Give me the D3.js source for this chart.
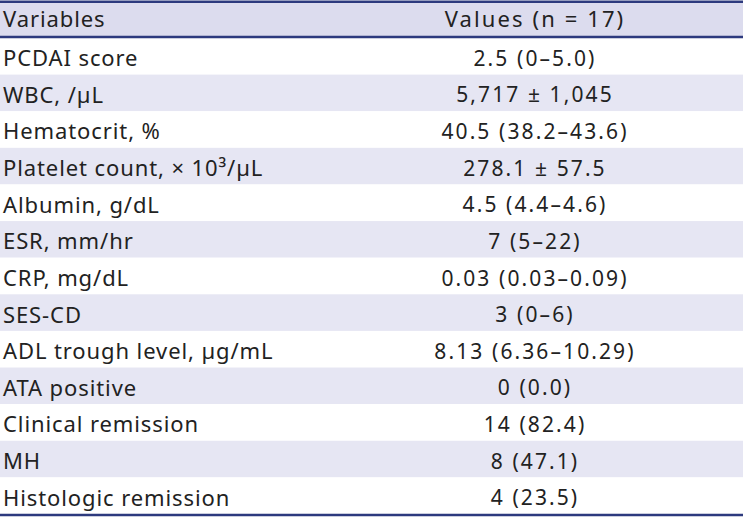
<!DOCTYPE html>
<html><head><meta charset="utf-8">
<script src="https://cdn.jsdelivr.net/npm/d3@7"></script>
<style>html,body{margin:0;padding:0;background:#fff;}svg{display:block;}</style>
</head><body>
<svg id="c" width="743" height="520"></svg>
<script>
const headers = ["Variables", "Values (n = 17)"];
const variables = ["PCDAI score","WBC, /µL","Hematocrit, %","Platelet count, × 10³/µL","Albumin, g/dL","ESR, mm/hr","CRP, mg/dL","SES-CD","ADL trough level, µg/mL","ATA positive","Clinical remission","MH","Histologic remission"];
const values = ["2.5 (0–5.0)","5,717 ± 1,045","40.5 (38.2–43.6)","278.1 ± 57.5","4.5 (4.4–4.6)","7 (5–22)","0.03 (0.03–0.09)","3 (0–6)","8.13 (6.36–10.29)","0 (0.0)","14 (82.4)","8 (47.1)","4 (23.5)"];

const W = 743;
const svg = d3.select("#c");
const font = "'Noto Sans', sans-serif";
const fs = 22;
const txt = "#222";
const navy = "#2D3A7E";
const shade = "#E6E6F3";
const headShade = "#DCDCEE";
const lsLeft = "0.9px", lsRight = "2.1px";

const y = d3.scaleBand().domain(d3.range(variables.length)).range([38, 514]).paddingInner(0).paddingOuter(0);
const x = d3.scaleOrdinal().domain([0,1]).range([3, 535]);

// header
svg.append("rect").attr("x",0).attr("y",2).attr("width",W).attr("height",35).attr("fill",headShade);
svg.selectAll("text.h").data(headers).join("text").attr("class","h")
  .attr("x",(d,i)=>x(i)).attr("y",19).attr("dy","0.36em")
  .attr("text-anchor",(d,i)=>i?"middle":"start")
  .attr("font-family",font).attr("font-size",fs).attr("fill",txt)
  .attr("letter-spacing",(d,i)=>i?lsRight:lsLeft)
  .text(d=>d);

const rows = svg.selectAll("g.row").data(variables).join("g").attr("class","row")
  .attr("transform",(d,i)=>`translate(0,${y(i)})`);
rows.append("rect").attr("x",0).attr("width",W).attr("height",y.bandwidth())
  .attr("fill",(d,i)=> i%2===1 ? shade : "#fff");
rows.append("text").attr("x",x(0)).attr("y",y.bandwidth()/2+2).attr("dy","0.36em")
  .attr("font-family",font).attr("font-size",fs).attr("fill",txt).attr("letter-spacing",lsLeft)
  .text(d=>d);
rows.append("text").attr("x",x(1)).attr("y",y.bandwidth()/2+2).attr("dy","0.36em")
  .attr("text-anchor","middle")
  .attr("font-family",font).attr("font-size",fs-1).attr("fill",txt).attr("letter-spacing",lsRight)
  .text((d,i)=>values[i]);

// rules
[1.8, 37, 515].forEach(yy=>{
  svg.append("line").attr("x1",0).attr("x2",W).attr("y1",yy).attr("y2",yy)
    .attr("stroke",navy).attr("stroke-width",2.6);
});
</script>
</body></html>
